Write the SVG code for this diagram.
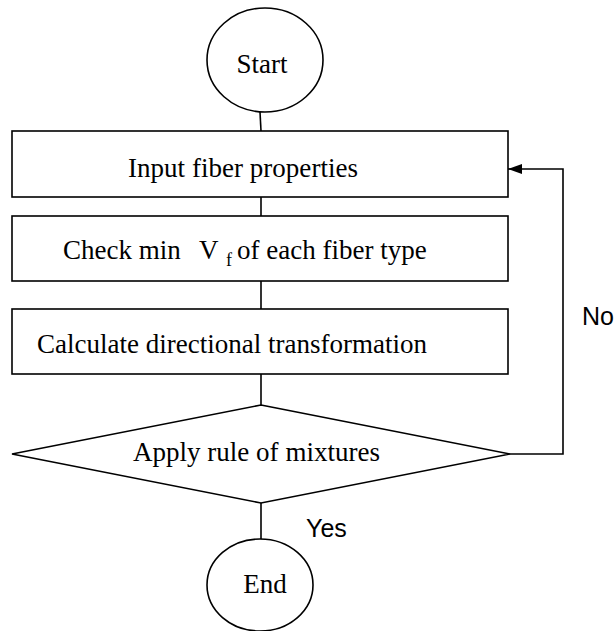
<svg xmlns="http://www.w3.org/2000/svg" width="615" height="631" viewBox="0 0 615 631">
<defs>
<style>
.shape{fill:#fff;stroke:#000;stroke-width:1.6}
.conn{fill:none;stroke:#000;stroke-width:1.6}
.t{font-family:"Liberation Serif","Times New Roman",serif;font-size:27px;fill:#000}
.lbl{font-family:"Liberation Sans",Arial,sans-serif;font-size:25px;fill:#000}
</style>
<marker id="arr" viewBox="0 0 14 10" refX="14" refY="5" markerWidth="14" markerHeight="10" markerUnits="userSpaceOnUse" orient="auto">
<path d="M0,0 L14,5 L0,10 Z" fill="#000"/>
</marker>
</defs>
<rect width="615" height="631" fill="#fff"/>
<g id="connectors">
<line class="conn" x1="260" y1="112" x2="261" y2="131"/>
<line class="conn" x1="261" y1="197" x2="261" y2="216"/>
<line class="conn" x1="261" y1="281" x2="261" y2="309"/>
<line class="conn" x1="261" y1="374" x2="261" y2="405"/>
<line class="conn" x1="261" y1="503" x2="261" y2="540"/>
<path class="conn" d="M510,454 H563 V169 H508" marker-end="url(#arr)"/>
<text class="lbl" x="582" y="325">No</text>
<text class="lbl" x="306" y="537">Yes</text>
</g>
<g id="start">
<ellipse class="shape" cx="265" cy="60" rx="58" ry="52"/>
<text class="t" x="262" y="73" text-anchor="middle">Start</text>
</g>
<g id="input">
<rect class="shape" x="12" y="131" width="496" height="66"/>
<text class="t" x="128" y="177" textLength="230">Input fiber properties</text>
</g>
<g id="check">
<rect class="shape" x="12" y="216" width="496" height="65"/>
<text class="t" y="259"><tspan x="63">Check min</tspan><tspan x="199">V</tspan><tspan x="226" dy="7" font-size="18">f</tspan><tspan x="237" dy="-7">of each fiber type</tspan></text>
</g>
<g id="calc">
<rect class="shape" x="12" y="309" width="496" height="65"/>
<text class="t" x="37" y="353" textLength="390">Calculate directional transformation</text>
</g>
<g id="decision">
<polygon class="shape" points="261,405 510,454 261,503 12,454"/>
<text class="t" x="133" y="461" textLength="247">Apply rule of mixtures</text>
</g>
<g id="end">
<ellipse class="shape" cx="260" cy="585" rx="53" ry="46"/>
<text class="t" x="265" y="593" text-anchor="middle">End</text>
</g>
</svg>
